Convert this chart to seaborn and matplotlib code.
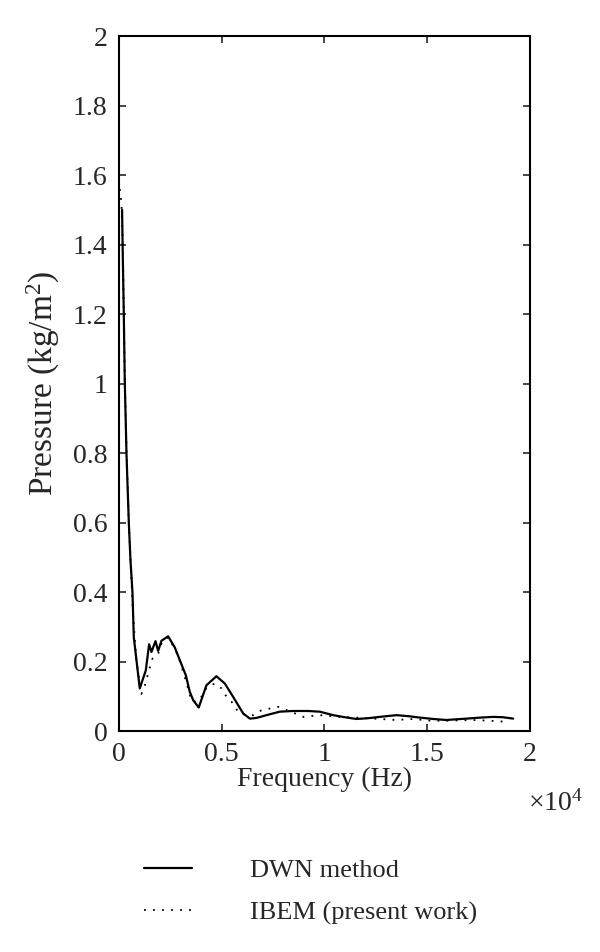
import matplotlib
matplotlib.use('Agg')
import matplotlib.pyplot as plt
import seaborn as sns
from matplotlib.ticker import FuncFormatter, MultipleLocator

# DWN method (solid)
dwn_freq = [160, 185, 243, 290, 373, 487, 570, 665, 730, 860, 1020, 1315, 1475,
            1590, 1785, 1915, 2075, 2400, 2560, 2725, 2970, 3260, 3455, 3620,
            3890, 4265, 4750, 5160, 5560, 6050, 6380, 6700, 7190, 7830, 8480,
            9200, 9780, 10430, 11000, 11560, 12100, 12700, 13510, 14100, 14650,
            15300, 15940, 16400, 16920, 17600, 18210, 18700, 19190]
dwn_pres = [1.50, 1.40, 1.20, 1.01, 0.80, 0.60, 0.49, 0.40, 0.27, 0.204, 0.123,
            0.175, 0.25, 0.228, 0.259, 0.231, 0.26, 0.273, 0.257, 0.241, 0.204,
            0.161, 0.113, 0.089, 0.068, 0.132, 0.158, 0.137, 0.099, 0.051,
            0.036, 0.038, 0.046, 0.056, 0.058, 0.058, 0.056, 0.046, 0.040,
            0.035, 0.037, 0.041, 0.046, 0.043, 0.039, 0.035, 0.032, 0.034,
            0.036, 0.039, 0.041, 0.040, 0.036]

# IBEM (present work) (dotted)
ibem_freq = [50, 130, 200, 290, 380, 490, 600, 700, 860, 1100, 1270, 1510, 1640,
             1900, 2100, 2400, 2600, 2890, 3290, 3540, 3800, 4020, 4270, 4670,
             5000, 5240, 5560, 5800, 6200, 6540, 6940, 7350, 7750, 8500, 8970,
             9780, 10750, 11880, 12700, 13510, 14330, 15140, 15940, 17250,
             18050, 18860]
ibem_pres = [1.56, 1.52, 1.38, 1.02, 0.80, 0.60, 0.45, 0.33, 0.20, 0.107, 0.132,
             0.183, 0.209, 0.22, 0.255, 0.27, 0.25, 0.217, 0.14, 0.086, 0.085,
             0.099, 0.125, 0.137, 0.123, 0.099, 0.080, 0.056, 0.045, 0.046,
             0.060, 0.065, 0.070, 0.053, 0.041, 0.046, 0.041, 0.038, 0.035,
             0.032, 0.035, 0.030, 0.030, 0.032, 0.030, 0.027]

sns.set_style('ticks')
plt.rcParams['font.family'] = ['Liberation Serif', 'DejaVu Serif']
plt.rcParams['mathtext.fontset'] = 'custom'
plt.rcParams['mathtext.rm'] = 'Liberation Serif'
plt.rcParams['mathtext.default'] = 'regular'

fs = 20

fig = plt.figure(figsize=(6, 9.52), dpi=100)
ax = fig.add_axes([0.198, 0.232, 0.685, 0.730])

sns.lineplot(x=dwn_freq, y=dwn_pres, ax=ax, color='black', linewidth=1.6,
             label='DWN method', legend=False)
sns.lineplot(x=ibem_freq, y=ibem_pres, ax=ax, color='black', linewidth=1.3,
             linestyle=(0, (1, 4)), label='IBEM (present work)', legend=False)

ax.set_xlim(0, 20000)
ax.set_ylim(0, 2)
ax.xaxis.set_major_locator(MultipleLocator(5000))
ax.yaxis.set_major_locator(MultipleLocator(0.2))
ax.xaxis.set_major_formatter(FuncFormatter(lambda v, p: '%g' % (v / 1e4)))
ax.yaxis.set_major_formatter(FuncFormatter(lambda v, p: '%g' % round(v, 1)))
ax.tick_params(direction='in', length=5, width=1.2, labelsize=fs,
               top=True, right=True, pad=8)
for s in ax.spines.values():
    s.set_linewidth(1.5)
    s.set_color('black')

ax.set_xlabel('Frequency (Hz)', fontsize=fs, labelpad=0)
ax.set_ylabel('Pressure (kg/m$^2$)', fontsize=fs + 4, labelpad=8)
ax.text(0.995, -0.085, r'$\times10^4$', transform=ax.transAxes, fontsize=fs,
        ha='left', va='top')

fig.legend(loc='upper left', bbox_to_anchor=(0.24, 0.098), frameon=False,
           fontsize=fs - 1, handlelength=1.8, handletextpad=2.2, labelspacing=0.7,
           borderpad=0, borderaxespad=0)

fig.savefig('out.png', dpi=100)
